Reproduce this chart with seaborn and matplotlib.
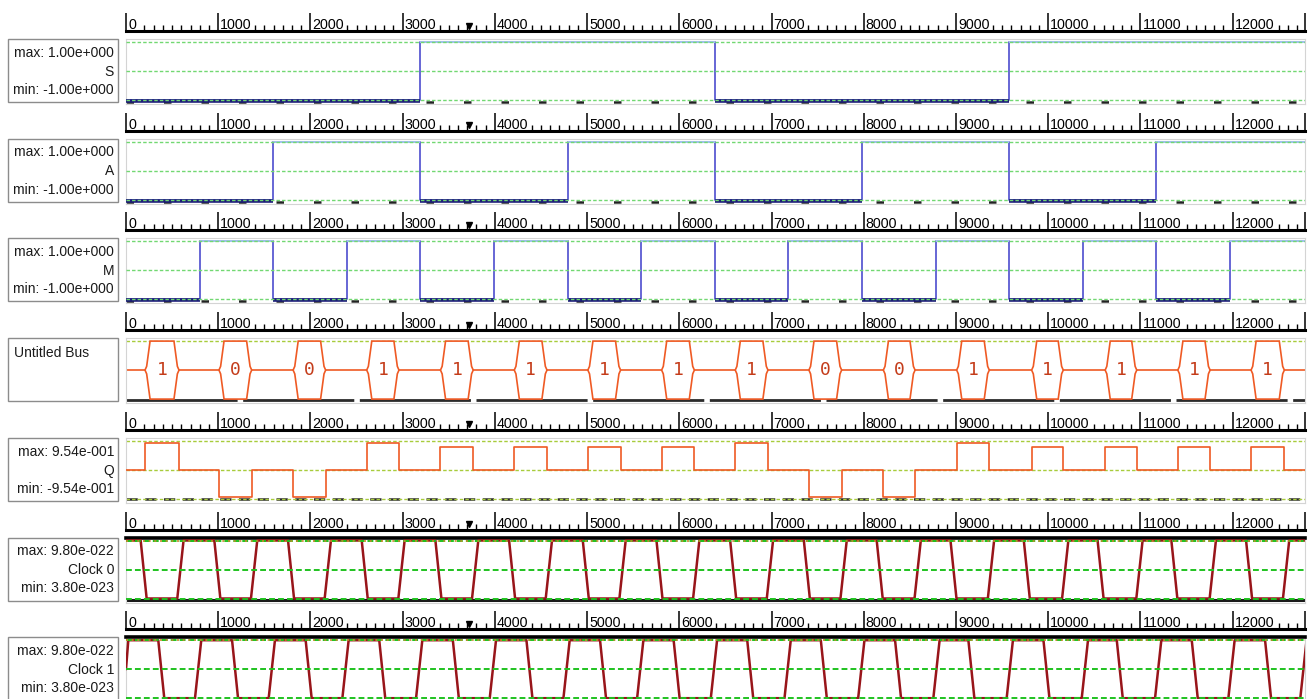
import numpy as np
import matplotlib
matplotlib.use("Agg")
import matplotlib.pyplot as plt
from matplotlib.patches import Rectangle
import seaborn as sns

# ---- data ----
ruler_ticks = [0, 1000, 2000, 3000, 4000, 5000, 6000, 7000, 8000, 9000, 10000, 11000, 12000]
t_end = 12784
cursor_t = 3720

s_edges = [0, 3190, 6385, 9575]
s_levels = [-1, 1, -1, 1]

a_edges = [0, 1595, 3190, 4790, 6385, 7980, 9575, 11170]
a_levels = [-1, 1, -1, 1, -1, 1, -1, 1]

m_edges = [0, 800, 1595, 2395, 3190, 3990, 4790, 5585, 6385, 7180, 7980, 8780, 9575,
           10375, 11170, 11970]
m_levels = [-1, 1, -1, 1, -1, 1, -1, 1, -1, 1, -1, 1, -1, 1, -1, 1]

bus_start = [206, 1008, 1812, 2610, 3410, 4210, 5008, 5808, 6606, 7405, 8212, 9007,
             9820, 10617, 11405, 12199]
bus_end = [575, 1363, 2165, 2960, 3765, 4565, 5363, 6163, 6961, 7760, 8556, 9361,
           10163, 10960, 11755, 12560]
bus_bits = ["1", "0", "0", "1", "1", "1", "1", "1", "1", "0", "0", "1", "1", "1", "1", "1"]
q_amp = [0.87, -0.90, -0.90, 0.87, 0.76, 0.76, 0.76, 0.76, 0.87, -0.90, -0.90, 0.87,
         0.76, 0.76, 0.76, 0.76]
q_max = 0.954

clk_max = 9.80   # x 1e-22
clk_min = 0.38
clk0_fall = [159, 958, 1757, 2556, 3355, 4154, 4953, 5752, 6551, 7350, 8140, 8940,
             9735, 10535, 11335, 12145]
clk0_rise = [556, 1355, 2154, 2953, 3752, 4551, 5350, 6149, 6948, 7747, 8550, 9345,
             10150, 10955, 11750, 12545]
clk1_fall = [350, 1150, 1948, 2746, 3544, 4342, 5140, 5938, 6736, 7534, 8339, 9134,
             9948, 10743, 11556, 12351]
clk1_rise = [748, 1547, 2346, 3145, 3944, 4743, 5542, 6341, 7140, 7939, 8754, 9549,
             10363, 11158, 11953, 12733]

labels = [("max: 1.00e+000", "S", "min: -1.00e+000"),
          ("max: 1.00e+000", "A", "min: -1.00e+000"),
          ("max: 1.00e+000", "M", "min: -1.00e+000"),
          None,
          ("max: 9.54e-001", "Q", "min: -9.54e-001"),
          ("max: 9.80e-022", "Clock 0", "min: 3.80e-023"),
          ("max: 9.80e-022", "Clock 1", "min: 3.80e-023")]

# ---- styling ----
sns.set_theme(style="white")
plt.rcParams["font.family"] = ["Liberation Sans", "DejaVu Sans"]

BLUE = "#5a5ad2"
NAVY = "#1c1c78"
PALE = "#a4c4ee"
ORANGE = "#ef5a24"
DIGIT = "#c43c1a"
CLK = "#98151a"
GREEN = "#72d872"
YGREEN = "#a8cc3c"
BGREEN = "#1fc21f"

W, H = 1310, 699
PITCH = 99.7
fig = plt.figure(figsize=(W / 100, H / 100), dpi=100)
fig.patch.set_facecolor("white")


def px_axes(x0, y0, w, h):
    return fig.add_axes([x0 / W, 1 - (y0 + h) / H, w / W, h / H])


def set_levels(ax, lo, hi):
    r = hi - lo
    ax.set_ylim(lo - r * 4 / 58, hi + r * 3 / 58)
    ax.set_xlim(0, t_end)


def px_to_data(ax, npx):
    lo, hi = ax.get_ylim()
    return npx * (hi - lo) / 65


def draw_ruler(top):
    ax = px_axes(126, top - 27, 1179, 19)
    ax.set_xlim(0, t_end)
    ax.set_ylim(0, 1)
    ax.patch.set_alpha(0)
    for s in ["top", "left", "right"]:
        ax.spines[s].set_visible(False)
    ax.spines["bottom"].set_linewidth(2.2)
    ax.spines["bottom"].set_color("black")
    minor = [t for t in range(100, t_end, 100) if t % 1000 != 0]
    ax.set_xticks(ruler_ticks + [t_end - 4])
    ax.set_xticks(minor, minor=True)
    ax.set_yticks([])
    ax.tick_params(axis="x", which="major", direction="in", length=13, width=1.1,
                   color="black", labelbottom=False, bottom=True)
    ax.tick_params(axis="x", which="minor", direction="in", length=4.5, width=1,
                   color="black", bottom=True)
    for t in ruler_ticks:
        ax.text(t + 22, 0.1, str(t), transform=ax.get_xaxis_transform(), ha="left",
                va="baseline", fontsize=10.3, color="black", zorder=2,
                bbox=dict(fc="white", ec="none", pad=0.5))
    ax.plot([cursor_t], [0.28], marker="v", color="black", ms=5, lw=0,
            transform=ax.get_xaxis_transform(), clip_on=False)


def frame(ax, top_color="#d4d4d4", top_lw=0.8):
    ax.set_xticks([])
    ax.set_yticks([])
    for s in ax.spines.values():
        s.set_color("#d4d4d4")
        s.set_linewidth(0.8)
    ax.spines["top"].set_color(top_color)
    ax.spines["top"].set_linewidth(top_lw)


def label_box(top, lines, bus=False):
    fig.add_artist(Rectangle((8 / W, 1 - (top + 63) / H), 110 / W, 63 / H,
                             transform=fig.transFigure, fill=False, ec="#8c8c8c", lw=1))
    if bus:
        fig.text(14 / W, 1 - (top + 14.5) / H, "Untitled Bus", ha="left", va="center",
                 fontsize=10, color="#1a1a1a")
        return
    for off, txt in zip([13.7, 32.7, 51.0], lines):
        fig.text(114 / W, 1 - (top + off) / H, txt, ha="right", va="center",
                 fontsize=10, color="#1a1a1a")


def logic_panel(ax, edges, levels):
    set_levels(ax, -1, 1)
    frame(ax)
    d = px_to_data(ax, 2)
    ax.axhline(-1 - d, color="#222222", lw=1.8, dashes=(3, 12), zorder=1)
    x = edges + [t_end + 50]
    y = levels + [levels[-1]]
    sns.lineplot(x=x, y=y, ax=ax, drawstyle="steps-post", estimator=None, sort=False,
                 color=BLUE, lw=1.3, zorder=3)
    for k, lev in enumerate(levels):
        x1 = x[k + 1]
        if lev < 0:
            ax.hlines(-1 - d / 2, x[k], x1, color=NAVY, lw=2.6, zorder=3)
        else:
            ax.hlines(1, x[k], x1, color=PALE, lw=1.4, zorder=3)
    for yv in (-1, 0, 1):
        ax.axhline(yv, color=GREEN, lw=1.0, dashes=(2.5, 1.5), zorder=4)


rows_top = [39 + i * PITCH for i in range(7)]
for i, top in enumerate(rows_top):
    draw_ruler(top)

# S, A, M
for i, (e, lv) in enumerate([(s_edges, s_levels), (a_edges, a_levels), (m_edges, m_levels)]):
    ax = px_axes(126, rows_top[i], 1179, 65)
    logic_panel(ax, e, lv)
    label_box(rows_top[i], labels[i])

# Untitled Bus
ax = px_axes(126, rows_top[3], 1179, 65)
set_levels(ax, -1, 1)
frame(ax)
ax.axhline(-1 - px_to_data(ax, 1), color="#2a2a2a", lw=2.0, dashes=(40, 2), zorder=1)
ax.axhline(1, color=YGREEN, lw=1.0, dashes=(2.5, 1.5), zorder=1)
ax.axhline(0, color=ORANGE, lw=1.2, zorder=2)
for s, e, b in zip(bus_start, bus_end, bus_bits):
    hx = [s, s + 18, s + 55, e - 55, e - 18, e, e - 18, e - 55, s + 55, s + 18, s]
    hy = [0, 0.13, 1, 1, 0.13, 0, -0.13, -1, -1, -0.13, 0]
    ax.fill(hx, hy, facecolor="white", edgecolor=ORANGE, lw=1.2, zorder=3)
    ax.text((s + e) / 2, 0.0, b, ha="center", va="center", fontsize=13,
            family="DejaVu Sans Mono", color=DIGIT, zorder=4)
label_box(rows_top[3], None, bus=True)

# Q
ax = px_axes(126, rows_top[4], 1179, 65)
set_levels(ax, -q_max, q_max)
frame(ax)
ax.axhline(-q_max, color="#2a2a2a", lw=1.8, dashes=(4.5, 3), zorder=1)
for yv in (-q_max, 0, q_max):
    ax.axhline(yv, color=YGREEN, lw=1.0, dashes=(2.5, 1.5), zorder=2)
qx, qy = [0], [0]
for s, e, a in zip(bus_start, bus_end, q_amp):
    qx += [s, e]
    qy += [a, 0]
qx.append(t_end + 50)
qy.append(0)
sns.lineplot(x=qx, y=qy, ax=ax, drawstyle="steps-post", estimator=None, sort=False,
             color=ORANGE, lw=1.2, zorder=3)
label_box(rows_top[4], labels[4])


# Clocks
def clock_panel(ax, falls, rises, start):
    set_levels(ax, clk_min, clk_max)
    frame(ax, top_color="black", top_lw=2.6)
    mid = (clk_min + clk_max) / 2
    ax.axhline(clk_min - px_to_data(ax, 1.5), color="#1a1a1a", lw=2.2, zorder=1)
    x, y = [0], [start]
    if start < clk_max:
        x.append(25)
        y.append(clk_max)
    for f, r in zip(falls, rises):
        x += [f, f + 65, r, r + 68]
        y += [clk_max, clk_min, clk_min, clk_max]
    x.append(max(t_end, x[-1]) + 100)
    y.append(clk_max)
    sns.lineplot(x=x, y=y, ax=ax, estimator=None, sort=False, color=CLK, lw=1.8, zorder=3)
    for yv in (clk_min, mid, clk_max):
        ax.axhline(yv, color=BGREEN, lw=1.4, dashes=(3, 1.6), zorder=4)
    ax.axhline(clk_max, color="#c98a2a", lw=1.2, dashes=(1.2, 2.2), zorder=5)


ax = px_axes(126, rows_top[5], 1179, 65)
clock_panel(ax, clk0_fall, clk0_rise, clk_max)
label_box(rows_top[5], labels[5])

ax = px_axes(126, rows_top[6], 1179, 65)
clock_panel(ax, clk1_fall, clk1_rise, (clk_min + clk_max) / 2)
label_box(rows_top[6], labels[6])

fig.savefig("out.png", dpi=100, facecolor="white")
